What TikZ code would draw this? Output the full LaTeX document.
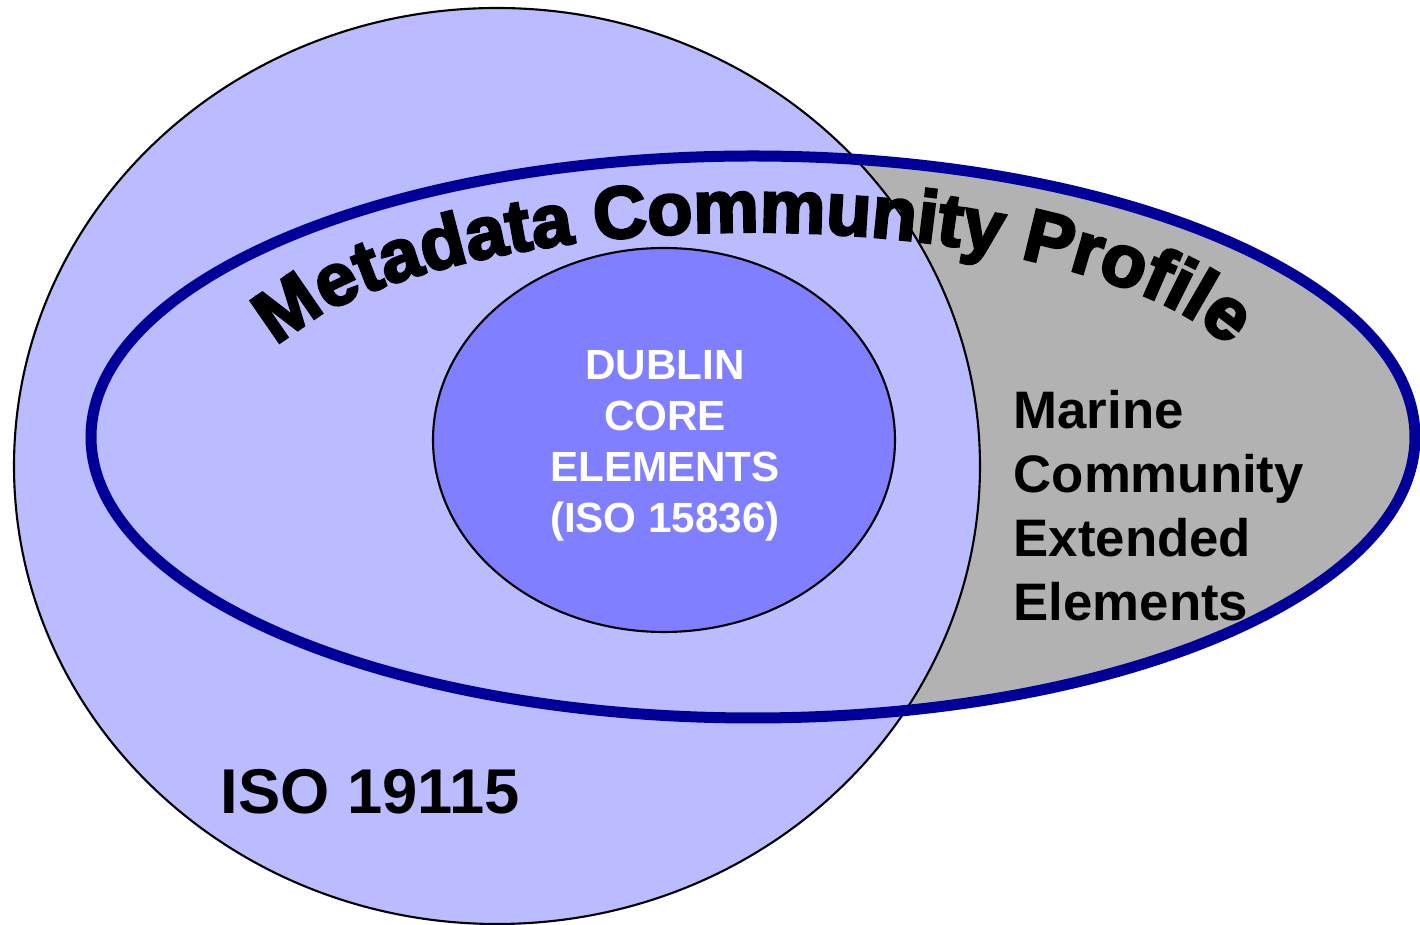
\documentclass[tikz,border=0pt]{standalone}
\usepackage{fontspec}
\setmainfont{Liberation Sans}
\newfontfamily\heavyfont{Liberation Sans Bold}[FakeBold=3.5]
\usetikzlibrary{decorations.text}
\definecolor{isofill}{HTML}{BBBBFF}
\definecolor{dcfill}{HTML}{7F7FFF}
\definecolor{mcpgray}{HTML}{B2B2B2}
\definecolor{mcpnavy}{HTML}{000099}
\begin{document}
\begin{tikzpicture}[x=0.01cm, y=-0.01cm,
    thinline/.style={draw=black, line width=0.6pt},
    txt/.style={inner sep=0pt}]
\useasboundingbox (0,0) rectangle (1420,925);
% profile ellipse, ISO circle, Dublin core
\fill[mcpgray] (753,437) ellipse [x radius=662, y radius=281];
\draw[thinline, fill=isofill] (497,466) ellipse [x radius=483, y radius=458];
\draw[mcpnavy, line width=1.1mm] (753,437) ellipse [x radius=662, y radius=281];
\draw[thinline, fill=dcfill] (664,440) ellipse [x radius=231, y radius=192];
% curved title
\path[decorate, decoration={text along path, text align=center,
    text={|\heavyfont\fontsize{21}{25}\selectfont|Metadata Community Profile}}]
    (753,405) ++(196:505 and 173) arc[start angle=196, end angle=344, x radius=505, y radius=173];
\node[txt, text=white, align=center, font=\bfseries\fontsize{12}{14.5}\selectfont] (dublin) at (665,446)
    {DUBLIN\\CORE\\ELEMENTS\\(ISO 15836)};
\node[txt, align=left, anchor=north west, font=\bfseries\fontsize{15}{18.2}\selectfont] (marine) at (1013,390)
    {Marine\\Community\\Extended\\Elements};
\node[txt, anchor=base west, font=\bfseries\fontsize{18}{22}\selectfont] (iso) at (220,814) {ISO 19115};
\end{tikzpicture}
\end{document}
